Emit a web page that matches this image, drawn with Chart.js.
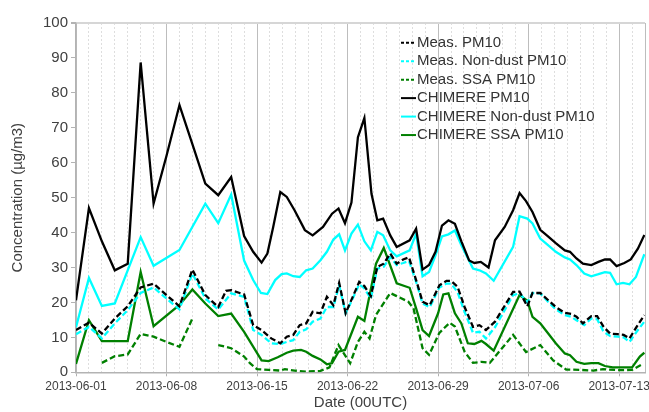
<!DOCTYPE html>
<html><head><meta charset="utf-8">
<script src="https://cdn.jsdelivr.net/npm/chart.js@4/dist/chart.umd.min.js"></script>
<style>html,body{margin:0;padding:0;background:#fff;}canvas{display:block;}</style>
</head><body>
<canvas id="c" width="649" height="412"></canvas>
<script>
// ---- Data (x = days since 2013-06-01 00UTC) ----
const startDate = '2013-06-01';
const tickDays = [0, 7, 14, 21, 28, 35, 42];
const tickLabels = ['2013-06-01','2013-06-08','2013-06-15','2013-06-22','2013-06-29','2013-07-06','2013-07-13'];
const seriesNames = ['Meas. PM10','Meas. Non-dust PM10','Meas. SSA PM10','CHIMERE PM10','CHIMERE Non-dust PM10','CHIMERE SSA PM10'];

const measPm10Days = [0,1,2,3,4,5,6,7,8,9,10,11,11.6,12,13,13.7,14.35,15.1,15.8,16.3,16.8,17.3,17.8,18.3,18.9,19.4,19.9,20.35,20.85,21.4,21.9,22.3,22.8,23.3,23.8,24.3,24.8,25.3,25.75,26.3,26.8,27.35,28.1,28.65,29.0,29.5,30.05,30.7,31.2,31.7,32.4,33.8,34.3,34.9,35.3,35.9,36.5,37.1,37.8,38.3,38.7,39.2,39.85,40.3,40.8,41.3,41.9,42.35,42.8,43.35,43.95];
const measPm10 = [12.1,14.2,11.1,15.4,18.9,24.3,25.4,22.1,18.9,29.4,22.1,18.7,23.3,23.5,22.3,13.5,12.1,9.7,8.3,10.2,10.7,13.5,14.0,17.3,16.9,21.6,19.2,25.6,16.9,21.6,25.9,24.7,21.8,30.2,31.1,34.0,31.1,32.3,32.9,26.4,20.2,19.2,24.9,26.2,26.2,24.5,18.7,13.0,13.5,12.1,14.5,23.0,23.1,18.9,22.7,22.7,20.7,18.7,17.0,16.7,15.9,14.0,16.1,16.1,13.0,11.1,10.9,10.7,9.7,13.0,16.4];

const measNonDustDays = [0,1,2,3,4,5,6,7,8,9,10,11,12,13,13.7,14.35,15.1,15.8,16.3,16.8,17.3,17.8,18.3,18.9,19.4,19.9,20.35,20.85,21.4,21.9,22.3,22.8,23.3,23.8,24.3,24.8,25.3,25.75,26.3,26.8,27.35,28.1,28.65,29.0,29.5,30.05,30.7,31.2,31.7,32.4,33.8,34.3,34.9,35.3,35.9,36.5,37.1,37.8,38.3,38.7,39.3,39.85,40.3,40.8,41.3,41.9,42.35,42.8,43.35,43.95];
const measNonDust = [10.9,13.0,9.7,14.0,17.8,22.7,24.3,21.1,18.0,28.3,21.1,18.0,22.6,21.6,12.1,10.7,8.3,8.1,8.7,9.2,11.6,12.3,14.5,15.4,18.7,18.7,24.9,16.9,21.1,25.2,24.0,21.1,29.7,30.2,33.0,30.7,31.3,31.9,25.9,19.7,18.6,24.3,25.4,25.4,23.0,17.3,11.3,11.6,9.7,12.9,22.1,22.6,20.0,22.7,22.6,20.2,18.0,16.4,15.9,14.9,13.5,15.4,15.2,11.6,10.4,10.2,10.0,8.7,11.6,14.5];

const measSsaDays = [2,3,4,5,6,7,8,9,10,11,12,13,13.45,14,14.9,15.8,16.15,16.9,17.8,18.9,19.6,20.3,21.2,21.8,22.3,22.7,23.2,24.3,24.8,25.7,26.1,26.8,27.3,28.1,28.9,29.3,30.05,30.7,31.35,32.0,33.8,34.8,35.9,36.9,37.9,38.95,40.0,40.75,42.0,43.0,43.85];
const measSsa = [2.7,4.6,5.1,11.0,10.2,8.7,7.3,15.4,null,7.8,6.9,4.5,2.6,0.9,0.7,0.5,0.9,0.5,0.2,0.4,1.4,7.8,2.6,8.7,11.6,9.7,16.4,22.7,21.8,20.2,18.3,6.9,5.0,11.3,14.2,13.1,5.9,2.7,3.0,2.7,10.7,5.8,7.8,3.4,0.8,0.7,0.5,0.9,0.6,0.7,2.4];

const chimPm10Days = [0,1,2,3,4,5,6,7,8,9,10,11,12,13,13.7,14.35,14.8,15.25,15.8,16.3,16.9,17.7,18.3,19.1,19.8,20.3,20.8,21.3,21.8,22.3,22.85,23.3,23.75,24.3,24.8,25.8,26.3,26.8,27.3,27.8,28.3,28.8,29.3,29.8,30.4,30.8,31.3,31.9,32.4,33.15,33.8,34.3,34.8,35.3,35.9,36.5,37.1,37.8,38.2,38.7,39.2,39.85,40.4,40.9,41.3,41.8,42.4,42.9,43.45,43.95];
const chimPm10 = [20.6,47.0,37.5,29.2,31.1,88.7,48.3,62.0,76.5,65.3,54.0,50.7,55.9,39.0,34.5,31.4,34.0,41.6,51.6,50.2,46.4,40.7,39.2,41.6,45.4,46.9,42.7,48.6,67.3,72.8,51.1,43.5,44.0,39.2,35.9,37.8,41.1,29.4,30.7,34.5,42.0,43.5,42.5,37.5,32.0,31.3,31.6,30.0,37.8,41.6,46.4,51.3,49.0,45.9,40.8,38.9,37.0,34.9,34.5,32.6,31.1,30.7,31.6,32.3,32.3,30.4,31.3,32.3,35.4,39.3];

const chimNonDustDays = [0,1,2,3,5,6,8,10,11,12,13,13.7,14.3,14.8,15.4,15.9,16.3,16.8,17.3,17.8,18.3,18.9,19.4,19.9,20.35,20.8,21.3,21.8,22.3,22.8,23.3,23.75,24.3,24.8,25.8,26.3,26.8,27.3,27.8,28.3,28.8,29.3,29.8,30.7,31.2,31.7,32.3,33.8,34.3,34.9,35.3,35.9,36.5,37.1,37.8,38.2,38.7,39.3,39.85,40.4,40.9,41.3,41.8,42.3,42.8,43.3,43.95];
const chimNonDust = [12.9,27.0,19.0,19.7,38.7,30.5,35.0,48.3,42.7,50.9,32.0,26.4,22.7,22.4,26.4,28.1,28.3,27.5,27.3,29.2,29.7,32.1,34.5,38.0,39.5,34.9,39.7,42.3,37.5,34.9,40.2,39.2,34.9,33.2,34.9,39.7,27.5,28.7,33.5,38.9,39.5,40.6,36.4,29.7,29.2,28.3,26.2,35.9,44.7,44.0,42.6,38.3,36.4,34.5,32.9,32.3,30.7,28.3,27.5,28.1,28.7,28.5,25.2,25.6,25.2,27.3,33.8];

const chimSsaDays = [0,1,2,4,5,6,8,9,10,11,12,13,14.35,14.9,15.6,16.3,16.8,17.4,17.8,18.3,18.9,19.4,19.8,20.3,20.8,21.8,22.3,23.2,23.8,24.8,25.8,26.3,26.8,27.3,28.0,28.4,28.8,29.3,29.8,30.3,30.8,31.35,31.7,32.3,34.3,34.9,35.3,35.9,36.5,37.1,37.8,38.2,38.7,39.3,39.85,40.4,40.9,41.5,42.3,43.0,43.6,43.95];
const chimSsa = [2.4,14.9,8.9,8.9,28.7,13.2,19.3,23.7,19.7,16.1,16.8,11.6,3.4,3.2,4.3,5.6,6.2,6.4,5.9,4.7,3.7,2.3,2.6,5.9,6.4,15.9,14.7,31.1,35.6,25.5,24.2,18.3,12.1,10.4,16.9,22.3,22.6,16.9,14.0,8.3,8.1,9.0,8.1,6.2,22.1,20.5,15.9,14.0,11.2,8.3,5.4,4.9,3.0,2.4,2.6,2.6,1.8,1.4,1.4,1.4,4.5,5.6];

// ---- Build chart ----
const pts = (xs, ys) => xs.map((x, i) => ({x: x, y: ys[i]}));
const FONT = '"Liberation Sans", Arial, sans-serif';
const DASH = [6, 3];

const datasets = [
  {label: seriesNames[0], data: pts(measPm10Days, measPm10), borderColor: '#000000', borderDash: DASH},
  {label: seriesNames[1], data: pts(measNonDustDays, measNonDust), borderColor: '#00ffff', borderDash: DASH},
  {label: seriesNames[2], data: pts(measSsaDays, measSsa), borderColor: '#008000', borderDash: DASH},
  {label: seriesNames[3], data: pts(chimPm10Days, chimPm10), borderColor: '#000000', borderDash: []},
  {label: seriesNames[4], data: pts(chimNonDustDays, chimNonDust), borderColor: '#00ffff', borderDash: []},
  {label: seriesNames[5], data: pts(chimSsaDays, chimSsa), borderColor: '#008000', borderDash: []}
].map(d => Object.assign(d, {borderWidth: 2.3, pointRadius: 0, tension: 0, fill: false, spanGaps: false}));

const legendPlugin = {
  id: 'customLegend',
  afterDraw(chart) {
    const ctx = chart.ctx;
    ctx.save();
    chart.data.datasets.forEach((ds, i) => {
      const y = 42.7 + i * 18.47;
      ctx.beginPath();
      ctx.strokeStyle = ds.borderColor;
      ctx.lineWidth = 2;
      ctx.setLineDash(ds.borderDash.length ? [3, 2] : []);
      ctx.moveTo(401, y); ctx.lineTo(416, y);
      ctx.stroke();
      ctx.setLineDash([]);
      ctx.fillStyle = '#333333';
      ctx.font = '15px ' + FONT;
      ctx.textBaseline = 'middle';
      ctx.textAlign = 'left';
      ctx.fillText(ds.label, 417, y);
    });
    ctx.restore();
  }
};

new Chart(document.getElementById('c'), {
  type: 'line',
  data: {datasets: datasets},
  plugins: [legendPlugin],
  options: {
    responsive: false,
    animation: false,
    devicePixelRatio: 1,
    layout: {padding: {top: 23, right: 4, left: 0, bottom: 0}},
    plugins: {legend: {display: false}, tooltip: {enabled: false}},
    scales: {
      x: {
        type: 'linear',
        min: 0, max: 44,
        afterFit: s => { s.height = 39.7; },
        afterBuildTicks: s => { s.ticks = []; for (let d = 0; d <= 44; d++) s.ticks.push({value: d}); },
        ticks: {
          stepSize: 1, autoSkip: false, maxRotation: 0, minRotation: 0, padding: 3,
          color: '#404040', font: {family: FONT, size: 12},
          callback: v => { const k = tickDays.indexOf(v); return k >= 0 ? tickLabels[k] : ''; }
        },
        grid: {
          drawTicks: true, tickLength: 4,
          color: c => (c.tick && (c.tick.value % 7 === 0 || c.tick.value === 44)) ? '#bdbdbd' : '#dedede',
          lineWidth: 1,
          tickColor: c => (c.tick && c.tick.value % 7 === 0) ? '#b0b0b0' : 'rgba(0,0,0,0)'
        },
        border: {
          display: true, color: '#b3b3b3', width: 1.5,
          dash: c => (c.tick && (c.tick.value % 7 === 0 || c.tick.value === 44)) ? [] : [2, 2]
        },
        title: {display: true, text: 'Date (00UTC)', color: '#404040', font: {family: FONT, size: 15}, padding: {top: 1, bottom: 0}}
      },
      y: {
        min: 0, max: 100,
        afterFit: s => { s.width = 76; },
        ticks: {stepSize: 10, padding: 3, color: '#404040', font: {family: FONT, size: 15}},
        grid: {
          drawTicks: true, tickLength: 5,
          color: c => (c.tick && c.tick.value === 100) ? '#d6d6d6' : 'rgba(0,0,0,0)',
          lineWidth: c => (c.tick && c.tick.value === 100) ? 2 : 1,
          tickColor: '#b3b3b3'
        },
        border: {display: true, color: '#b3b3b3', width: 1.5},
        title: {display: true, text: 'Concentration (µg/m3)', color: '#404040', font: {family: FONT, size: 15}, padding: {top: 9, bottom: 0}}
      }
    }
  }
});
</script>
</body></html>
